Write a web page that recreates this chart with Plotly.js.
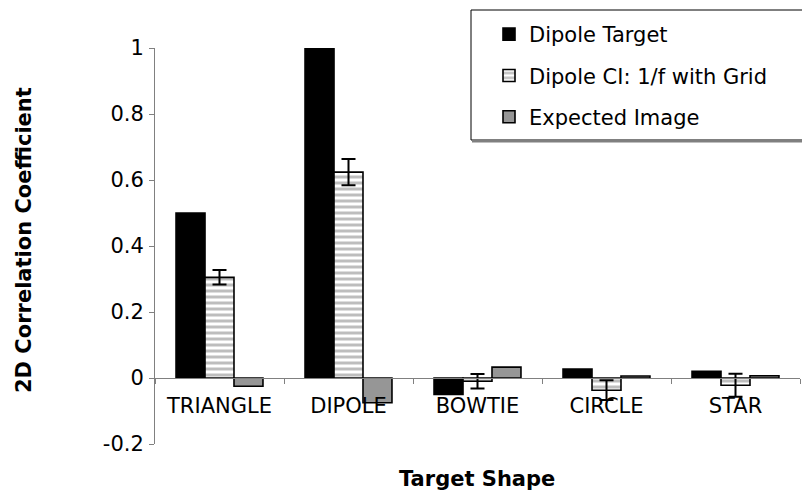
<!DOCTYPE html>
<html>
<head>
<meta charset="utf-8">
<script src="https://cdn.plot.ly/plotly-3.0.1.min.js"></script>
<style>
  html, body { margin: 0; padding: 0; background: #ffffff; }
  #chart { width: 802px; height: 495px; }
</style>
</head>
<body>
<div id="chart"></div>
<script>
// Target shapes along the x axis
const shapes = ['TRIANGLE', 'DIPOLE', 'BOWTIE', 'CIRCLE', 'STAR'];

// 2D correlation coefficient for each series
const dipoleTarget = [0.50, 1.00, -0.05, 0.027, 0.02];
const dipoleCI = [0.305, 0.624, -0.01, -0.037, -0.022];
const dipoleCIError = [0.022, 0.04, 0.022, 0.03, 0.035];
const expectedImage = [-0.025, -0.075, 0.033, 0.006, 0.007];

// Series names shown in the legend
const seriesNames = ['Dipole Target', 'Dipole CI: 1/f with Grid', 'Expected Image'];

// Y axis ticks
const yTickVals = [-0.2, 0, 0.2, 0.4, 0.6, 0.8, 1];
const yTickText = ['-0.2', '0', '0.2', '0.4', '0.6', '0.8', '1'];

const FONT = 'DejaVu Sans, Verdana, sans-serif';
const outline = { color: '#000000', width: 1.6 };

const traces = [
  {
    type: 'bar', name: seriesNames[0], legendgroup: 'a',
    x: shapes, y: dipoleTarget,
    marker: { color: '#000000', line: outline }
  },
  {
    type: 'bar', name: seriesNames[1], legendgroup: 'b',
    x: shapes, y: dipoleCI,
    marker: {
      color: '#ffffff', line: outline,
      pattern: { shape: '-', fgcolor: '#bdbdbd', bgcolor: '#ffffff', size: 6, solidity: 0.5 }
    },
    error_y: { type: 'data', array: dipoleCIError, visible: true, color: '#000000', thickness: 2, width: 7 }
  },
  {
    type: 'bar', name: seriesNames[2], legendgroup: 'c',
    x: shapes, y: expectedImage,
    marker: { color: '#969696', line: outline }
  }
];

// plot-area geometry in pixels, used to place the legend frame and titles
const W = 802, H = 495, ML = 155, MR = 2, MT = 48, MB = 51;
const PW = W - ML - MR, PH = H - MT - MB;
const px = x => (x - ML) / PW;
const py = y => (H - MB - y) / PH;

const layout = {
  width: W, height: H,
  margin: { l: ML, r: MR, t: MT, b: MB, pad: 0 },
  paper_bgcolor: '#ffffff', plot_bgcolor: '#ffffff',
  font: { family: FONT, size: 21, color: '#000000' },
  barmode: 'group', bargap: 0.326, bargroupgap: 0,
  showlegend: true,
  legend: {
    x: px(489), y: py(14), xanchor: 'left', yanchor: 'top',
    bgcolor: 'rgba(0,0,0,0)', borderwidth: 0,
    font: { family: FONT, size: 21, color: '#000000' },
    traceorder: 'grouped', tracegroupgap: 11
  },
  xaxis: {
    type: 'category', range: [-0.5, 4.5],
    anchor: 'free', position: 0.2 / 1.2,
    showline: true, linecolor: '#808080', linewidth: 1,
    ticks: 'outside', tickson: 'boundaries', ticklen: 5, tickcolor: '#808080',
    showgrid: false, zeroline: false,
    tickfont: { family: FONT, size: 21, color: '#000000' },
    ticklabelstandoff: 9
  },
  yaxis: {
    range: [-0.2, 1], tickvals: yTickVals, ticktext: yTickText,
    showline: true, linecolor: '#808080', linewidth: 1,
    ticks: 'outside', ticklen: 5, tickcolor: '#808080',
    showgrid: false, zeroline: false,
    tickfont: { family: FONT, size: 21, color: '#000000' },
    ticklabelstandoff: 1
  },
  shapes: [
    { type: 'rect', xref: 'paper', yref: 'paper',
      x0: px(471), x1: px(812), y0: py(140), y1: py(10),
      line: { color: '#000000', width: 1 }, fillcolor: 'rgba(0,0,0,0)' },
    { type: 'line', xref: 'paper', yref: 'paper',
      x0: px(472), x1: px(812), y0: py(141.5), y1: py(141.5),
      line: { color: '#808080', width: 2 } }
  ],
  annotations: [
    { text: '<b>Target Shape</b>', xref: 'paper', yref: 'paper',
      x: px(477), y: py(479), xanchor: 'center', yanchor: 'middle',
      showarrow: false, font: { family: FONT, size: 21, color: '#000000' } },
    { text: '<b>2D Correlation Coefficient</b>', xref: 'paper', yref: 'paper',
      x: px(24), y: py(240), xanchor: 'center', yanchor: 'middle', textangle: -90,
      showarrow: false, font: { family: FONT, size: 21, color: '#000000' } }
  ]
};

Plotly.newPlot('chart', traces, layout, { staticPlot: true, displayModeBar: false });
</script>
</body>
</html>
